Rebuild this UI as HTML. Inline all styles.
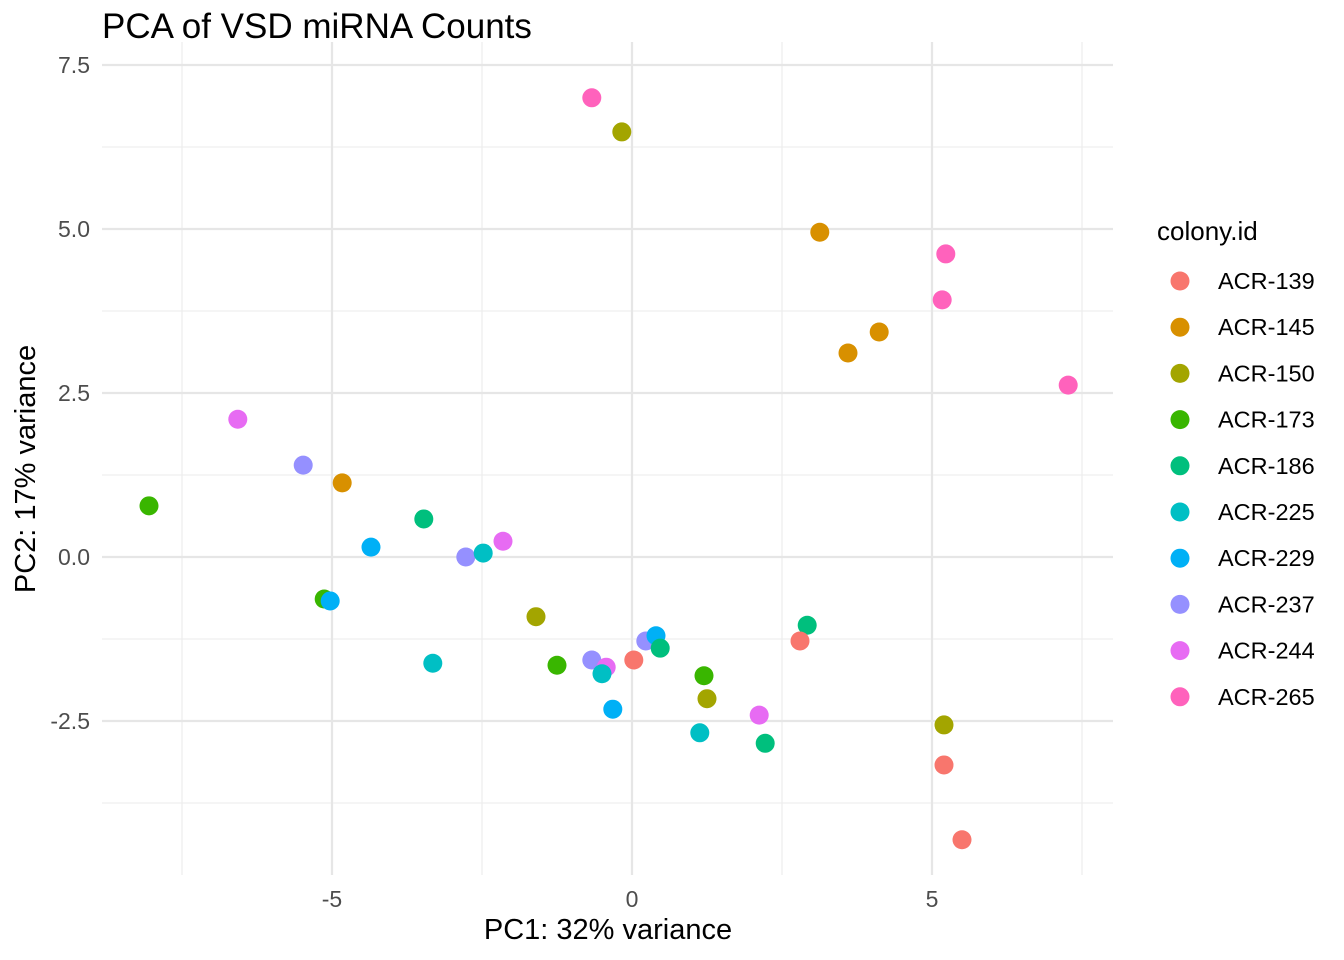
<!DOCTYPE html>
<html><head><meta charset="utf-8"><style>
html,body{margin:0;padding:0;background:#fff}
svg{display:block;font-family:"Liberation Sans",sans-serif}
</style></head><body>
<svg id="chart" width="1344" height="960" viewBox="0 0 1344 960">
<text x="102" y="38" font-size="35" fill="#000">PCA of VSD miRNA Counts</text>
<g id="grid"></g>
<g id="points"></g>
<g id="axes"></g>
<text x="608" y="939" font-size="29" text-anchor="middle" fill="#000">PC1: 32% variance</text>
<text transform="translate(35,469) rotate(-90)" font-size="29" text-anchor="middle" fill="#000">PC2: 17% variance</text>
<g id="legend">
<text x="1157" y="240" font-size="26" fill="#000">colony.id</text>
</g>
</svg>
<script>
const colonies=["ACR-139","ACR-145","ACR-150","ACR-173","ACR-186","ACR-225","ACR-229","ACR-237","ACR-244","ACR-265"];
const colors=["#F8766D","#D89000","#A3A500","#39B600","#00BF7D","#00BFC4","#00B0F6","#9590FF","#E76BF3","#FF62BC"];
const pc1=[-0.67,-0.17,3.13,5.23,5.17,4.12,3.6,7.27,-6.57,-5.48,-4.83,-8.05,-3.47,-4.35,-2.77,-2.48,-2.15,-5.13,-5.03,-1.6,2.92,2.8,0.23,0.4,0.47,0.03,-0.67,-0.43,-3.32,-1.25,-0.5,1.2,1.25,-0.32,1.13,2.12,2.22,5.2,5.2,5.5];
const pc2=[7.0,6.48,4.95,4.62,3.92,3.43,3.11,2.62,2.10,1.40,1.13,0.78,0.58,0.15,0.0,0.06,0.24,-0.64,-0.67,-0.91,-1.04,-1.28,-1.28,-1.20,-1.39,-1.57,-1.57,-1.68,-1.62,-1.65,-1.78,-1.81,-2.16,-2.32,-2.68,-2.41,-2.84,-2.56,-3.17,-4.31];
const group=["ACR-265","ACR-150","ACR-145","ACR-265","ACR-265","ACR-145","ACR-145","ACR-265","ACR-244","ACR-237","ACR-145","ACR-173","ACR-186","ACR-229","ACR-237","ACR-225","ACR-244","ACR-173","ACR-229","ACR-150","ACR-186","ACR-139","ACR-237","ACR-229","ACR-186","ACR-139","ACR-237","ACR-244","ACR-225","ACR-173","ACR-225","ACR-173","ACR-150","ACR-229","ACR-225","ACR-244","ACR-186","ACR-150","ACR-139","ACR-139"];
const xMajor=[-5,0,5], xMinor=[-7.5,-2.5,2.5,7.5];
const yMajor=[7.5,5.0,2.5,0.0,-2.5], yMinor=[6.25,3.75,1.25,-1.25,-3.75];
const xLabels=["-5","0","5"], yLabels=["7.5","5.0","2.5","0.0","-2.5"];
const NS="http://www.w3.org/2000/svg";
const X=v=>632+v*60, Y=v=>557-v*65.6;
const L=102,R=1113,T=42,B=875;
function mk(tag,attrs,parent){const e=document.createElementNS(NS,tag);for(const k in attrs)e.setAttribute(k,attrs[k]);parent.appendChild(e);return e;}
const grid=document.getElementById('grid'),axes=document.getElementById('axes'),pts=document.getElementById('points'),leg=document.getElementById('legend');
xMinor.forEach(v=>{const l=mk('line',{x1:X(v),x2:X(v),y1:T,y2:B,stroke:'#ebebeb','stroke-width':1.1},grid);

});
yMinor.forEach(v=>{const l=mk('line',{x1:L,x2:R,y1:Y(v),y2:Y(v),stroke:'#ebebeb','stroke-width':1.1},grid);

});
xMajor.forEach((v,i)=>{const l=mk('line',{x1:X(v),x2:X(v),y1:T,y2:B,stroke:'#e6e6e6','stroke-width':2.2},grid);


const t=mk('text',{x:X(v),y:907,'font-size':23,'text-anchor':'middle',fill:'#4d4d4d'},axes);t.textContent=xLabels[i];

});
yMajor.forEach((v,i)=>{const l=mk('line',{x1:L,x2:R,y1:Y(v),y2:Y(v),stroke:'#e6e6e6','stroke-width':2.2},grid);


const t=mk('text',{x:90,y:Y(v)+8,'font-size':23,'text-anchor':'end',fill:'#4d4d4d'},axes);t.textContent=yLabels[i];

});
pc1.forEach((v,i)=>{const c=mk('circle',{cx:X(v),cy:Y(pc2[i]),r:9.5,fill:colors[colonies.indexOf(group[i])]},pts);

});
colonies.forEach((c,i)=>{const y=281+i*46.2;
const d=mk('circle',{cx:1180,cy:y,r:9.5,fill:colors[i]},leg);


const t=mk('text',{x:1218,y:y+8,'font-size':23.5,fill:'#000'},leg);t.textContent=c;

});
</script>
</body></html>
